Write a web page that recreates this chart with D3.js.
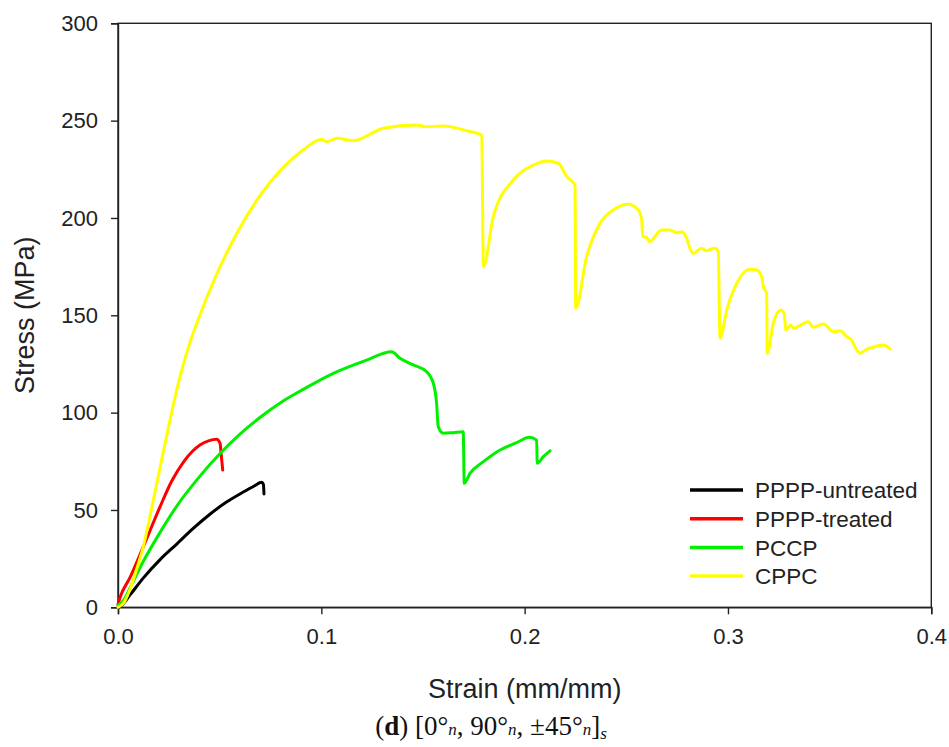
<!DOCTYPE html>
<html>
<head>
<meta charset="utf-8">
<script src="https://cdn.jsdelivr.net/npm/d3@7"></script>
<style>
  html, body { margin: 0; padding: 0; background: #fff; }
  svg { display: block; }
</style>
</head>
<body>
<svg id="chart" width="949" height="747"></svg>
<script>
// ---- data ----
const seriesNames = ["PPPP-untreated", "PPPP-treated", "PCCP", "CPPC"];
const seriesColors = ["#000000", "#ff0000", "#00f000", "#ffff00"];

const untreatedStrain = [0, 0.001, 0.006, 0.0124, 0.0207, 0.0289, 0.037, 0.0452, 0.053, 0.0616, 0.067, 0.0707, 0.0715, 0.0718];
const untreatedStress = [0, 0.4, 6.5, 15.0, 24.5, 32.5, 40.5, 47.8, 53.8, 59.2, 62.3, 64.2, 63.2, 58.2];

const treatedStrain = [0, 0.001, 0.006, 0.0124, 0.0207, 0.0265, 0.0321, 0.0365, 0.0403, 0.0445, 0.0485, 0.0502, 0.0508, 0.0515];
const treatedStress = [1.5, 5.0, 15.5, 31.0, 51.7, 65.0, 74.5, 80.0, 83.4, 85.5, 86.3, 84.2, 78.0, 70.5];

const pccpStrain = [0, 0.003, 0.0059, 0.0124, 0.0207, 0.0289, 0.04, 0.0502, 0.06, 0.0698, 0.0805, 0.0895, 0.1059, 0.1223, 0.1346, 0.1387, 0.1452, 0.1518, 0.1551, 0.1567, 0.1575, 0.16, 0.1649, 0.1698, 0.1703, 0.1731, 0.1797, 0.1879, 0.1961, 0.2023, 0.2059, 0.2062, 0.2092, 0.2125];
const pccpStress = [1, 4, 10, 23.5, 38.5, 52.0, 67.0, 79.0, 89.0, 97.5, 105.5, 111.0, 120.2, 127.0, 131.3, 127.9, 124.5, 121.0, 115.1, 104.8, 92.8, 89.4, 89.7, 90.2, 63.7, 68.8, 74.8, 80.8, 84.6, 87.3, 85.9, 74.0, 77.4, 80.4];

const cppcStrain = [0, 0.003, 0.006, 0.009, 0.0124, 0.016, 0.0223, 0.0305, 0.0354, 0.0395, 0.0485, 0.0584, 0.0682, 0.0813, 0.0911, 0.1002, 0.1026, 0.1076, 0.1157, 0.1305, 0.1469, 0.151, 0.16, 0.1715, 0.1789, 0.1797, 0.1846, 0.1944, 0.2043, 0.2108, 0.2166, 0.2207, 0.2248, 0.2251, 0.2305, 0.2371, 0.2436, 0.251, 0.2559, 0.2576, 0.2581, 0.26, 0.2613, 0.2674, 0.2715, 0.2748, 0.2772, 0.2797, 0.2813, 0.2829, 0.287, 0.2891, 0.2935, 0.2952, 0.2961, 0.2994, 0.3043, 0.3108, 0.3141, 0.3166, 0.3174, 0.319, 0.3193, 0.3223, 0.3259, 0.3276, 0.3285, 0.3308, 0.3321, 0.3395, 0.342, 0.3469, 0.3518, 0.3551, 0.3584, 0.3608, 0.3633, 0.3649, 0.3682, 0.3707, 0.3764, 0.3797];
const cppcStress = [0, 2.5, 9.5, 19, 31, 48, 80, 118.5, 136, 148, 171, 192, 209, 226, 235, 240.4, 239.2, 240.9, 239.7, 246.1, 247.8, 246.9, 247.2, 244.8, 242.6, 175.0, 200.7, 219.5, 227.2, 229.3, 228.1, 221.2, 216.9, 153.6, 180.1, 197.3, 204.1, 207.0, 204.1, 198.9, 190.4, 190.1, 187.8, 193.8, 193.8, 192.4, 192.9, 189.5, 184.4, 181.8, 184.4, 183.2, 184.4, 182.7, 138.2, 152.7, 166.4, 173.6, 173.3, 169.8, 164.7, 161.3, 130.5, 145.9, 152.7, 151.0, 142.4, 145.0, 143.3, 146.7, 143.8, 145.5, 141.6, 142.1, 139.0, 137.3, 132.2, 130.5, 132.5, 133.4, 134.7, 132.7];

const xTicks = [0.0, 0.1, 0.2, 0.3, 0.4];
const xTickLabels = ["0.0", "0.1", "0.2", "0.3", "0.4"];
const yTicks = [0, 50, 100, 150, 200, 250, 300];

const xTitle = "Strain (mm/mm)";
const yTitle = "Stress (MPa)";

// ---- build ----
const strains = [untreatedStrain, treatedStrain, pccpStrain, cppcStrain];
const stresses = [untreatedStress, treatedStress, pccpStress, cppcStress];
const series = seriesNames.map((name, i) => ({
  name, color: seriesColors[i],
  points: strains[i].map((s, j) => [s, stresses[i][j]])
}));

const svg = d3.select("#chart");
const pLeft = 118, pRight = 931.3, pTop = 23.3, pBottom = 607.3;
const x = d3.scaleLinear().domain([0, 0.4]).range([pLeft, pRight]);
const y = d3.scaleLinear().domain([0, 300]).range([pBottom, pTop]);

const font = "Arial, 'Liberation Sans', Helvetica, sans-serif";
const axisColor = "#222";

// plot frame
svg.append("rect")
  .attr("x", pLeft).attr("y", pTop)
  .attr("width", pRight - pLeft).attr("height", pBottom - pTop)
  .attr("fill", "none").attr("stroke", axisColor).attr("stroke-width", 1.4);

// axes
const xAxis = d3.axisBottom(x).tickValues(xTicks).tickFormat((d, i) => xTickLabels[i]).tickSize(7).tickPadding(14);
const yAxis = d3.axisLeft(y).tickValues(yTicks).tickSize(7).tickPadding(13);

const gx = svg.append("g").attr("transform", `translate(0,${pBottom})`).call(xAxis);
const gy = svg.append("g").attr("transform", `translate(${pLeft},0)`).call(yAxis);
[gx, gy].forEach(g => {
  g.select(".domain").attr("stroke", axisColor).attr("stroke-width", 1.4);
  g.selectAll(".tick line").attr("stroke", axisColor).attr("stroke-width", 1.4);
  g.selectAll(".tick text").attr("fill", "#222").style("font-family", font).style("font-size", "22px");
});

// lines
const line = d3.line().x(d => x(d[0])).y(d => y(d[1])).curve(d3.curveMonotoneX);
svg.append("clipPath").attr("id", "clip").append("rect")
  .attr("x", pLeft - 3).attr("y", pTop).attr("width", pRight - pLeft + 3).attr("height", pBottom - pTop + 3);
const gLines = svg.append("g").attr("clip-path", "url(#clip)");
gLines.selectAll("path").data(series).join("path")
  .attr("d", d => line(d.points))
  .attr("fill", "none")
  .attr("stroke", d => d.color)
  .attr("stroke-width", 3)
  .attr("stroke-linejoin", "round")
  .attr("stroke-linecap", "round");

// legend
const legend = svg.append("g");
const legY0 = 490, legDy = 28.7;
series.forEach((s, i) => {
  const yy = legY0 + i * legDy;
  legend.append("line").attr("x1", 690).attr("x2", 743).attr("y1", yy).attr("y2", yy)
    .attr("stroke", s.color).attr("stroke-width", 3.5);
  legend.append("text").attr("x", 755).attr("y", yy).attr("dy", "0.36em")
    .style("font-family", font).style("font-size", "22.5px").attr("fill", "#222").text(s.name);
});

// axis titles
svg.append("text").attr("x", (pLeft + pRight) / 2).attr("y", 698).attr("text-anchor", "middle")
  .style("font-family", font).style("font-size", "27px").attr("fill", "#222").text(xTitle);
svg.append("text").attr("transform", `translate(34,${(pTop + pBottom) / 2}) rotate(-90)`).attr("text-anchor", "middle")
  .style("font-family", font).style("font-size", "27px").attr("fill", "#222").text(yTitle);

// caption
const cap = svg.append("text").attr("x", 491).attr("y", 735).attr("text-anchor", "middle")
  .style("font-family", "'Liberation Serif', 'Times New Roman', serif").style("font-size", "27px").attr("fill", "#111");
cap.append("tspan").text("(");
cap.append("tspan").attr("font-weight", "bold").text("d");
cap.append("tspan").text(") [0°");
cap.append("tspan").attr("font-style", "italic").attr("font-size", "17px").text("n");
cap.append("tspan").text(", 90°");
cap.append("tspan").attr("font-style", "italic").attr("font-size", "17px").text("n");
cap.append("tspan").text(", ±45°");
cap.append("tspan").attr("font-style", "italic").attr("font-size", "17px").text("n");
cap.append("tspan").text("]");
cap.append("tspan").attr("font-style", "italic").attr("font-size", "17px").attr("dy", "4").text("s");
</script>
</body>
</html>
